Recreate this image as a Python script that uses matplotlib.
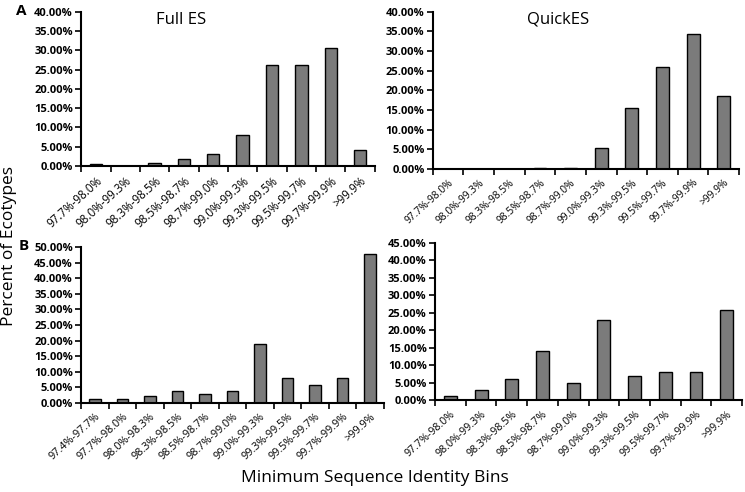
import matplotlib.pyplot as plt
import numpy as np

plt.rcParams['font.family'] = ['Open Sans', 'DejaVu Sans']

# bins
bins_a = ["97.7%-98.0%", "98.0%-99.3%", "98.3%-98.5%", "98.5%-98.7%", "98.7%-99.0%",
          "99.0%-99.3%", "99.3%-99.5%", "99.5%-99.7%", "99.7%-99.9%", ">99.9%"]
bins_b1 = ["97.4%-97.7%", "97.7%-98.0%", "98.0%-98.3%", "98.3%-98.5%", "98.5%-98.7%",
           "98.7%-99.0%", "99.0%-99.3%", "99.3%-99.5%", "99.5%-99.7%", "99.7%-99.9%", ">99.9%"]
bins_b2 = bins_a

# valores en %
full_a = [0.35, 0.0, 0.85, 1.65, 2.95, 8.0, 26.3, 26.3, 30.7, 4.0]
quick_a = [0.0, 0.0, 0.0, 0.1, 0.3, 5.3, 15.4, 26.0, 34.4, 18.6]
full_b = [1.2, 1.2, 2.1, 3.7, 2.9, 3.7, 18.9, 7.9, 5.6, 7.9, 47.8]
quick_b = [1.2, 3.0, 6.0, 14.0, 5.1, 22.9, 7.0, 8.1, 8.1, 25.8]

bar_color = '#7b7b7b'

fig = plt.figure(figsize=(7.45, 4.92), dpi=100)


def draw_panel(rect, labels, vals, ymax, xfs, title=None, title_x=0.5):
    ax = fig.add_axes(rect)
    x = np.arange(len(vals))
    ax.bar(x, vals, width=0.42, color=bar_color, edgecolor='black', linewidth=1.0)
    ax.set_xlim(-0.5, len(vals) - 0.5)
    ax.set_ylim(0, ymax)
    yt = np.arange(0, ymax + 0.1, 5)
    ax.set_yticks(yt)
    ax.set_yticklabels(["%.2f%%" % v for v in yt], fontsize=8, fontweight='bold')
    # ticks en los limites de las categorias, estilo Excel
    ax.set_xticks(np.arange(len(vals) + 1) - 0.5)
    ax.set_xticklabels([])
    ax.set_xticks(x, minor=True)
    ax.set_xticklabels(labels, minor=True, rotation=42, ha='right', va='top',
                       rotation_mode='anchor', fontsize=xfs)
    ax.tick_params(axis='x', which='minor', length=0, pad=6)
    ax.tick_params(axis='x', which='major', length=4, width=1.2, direction='out')
    ax.tick_params(axis='y', length=4, width=1.2, direction='out', pad=2)
    for s in ['top', 'right']:
        ax.spines[s].set_visible(False)
    for s in ['left', 'bottom']:
        ax.spines[s].set_linewidth(1.5)
    if title:
        ax.text(title_x, 1.0, title, transform=ax.transAxes, fontsize=12,
                ha='center', va='top')
    return ax


draw_panel([0.109, 0.663, 0.394, 0.313], bins_a, full_a, 40, 8.3, "Full ES", 0.34)
draw_panel([0.581, 0.657, 0.411, 0.319], bins_a, quick_a, 40, 7.4, "QuickES", 0.41)
draw_panel([0.109, 0.181, 0.406, 0.317], bins_b1, full_b, 50, 7.8)
draw_panel([0.584, 0.186, 0.412, 0.321], bins_b2, quick_b, 45, 7.7)

fig.text(0.029, 0.978, "A", fontsize=11, fontweight='bold', ha='center', va='center')
fig.text(0.032, 0.5, "B", fontsize=11, fontweight='bold', ha='center', va='center')
fig.text(0.012, 0.5, "Percent of Ecotypes", rotation=90, fontsize=12.5, ha='center', va='center')
fig.text(0.503, 0.028, "Minimum Sequence Identity Bins", fontsize=12.5, ha='center', va='center')

fig.savefig("out.png", dpi=100)
